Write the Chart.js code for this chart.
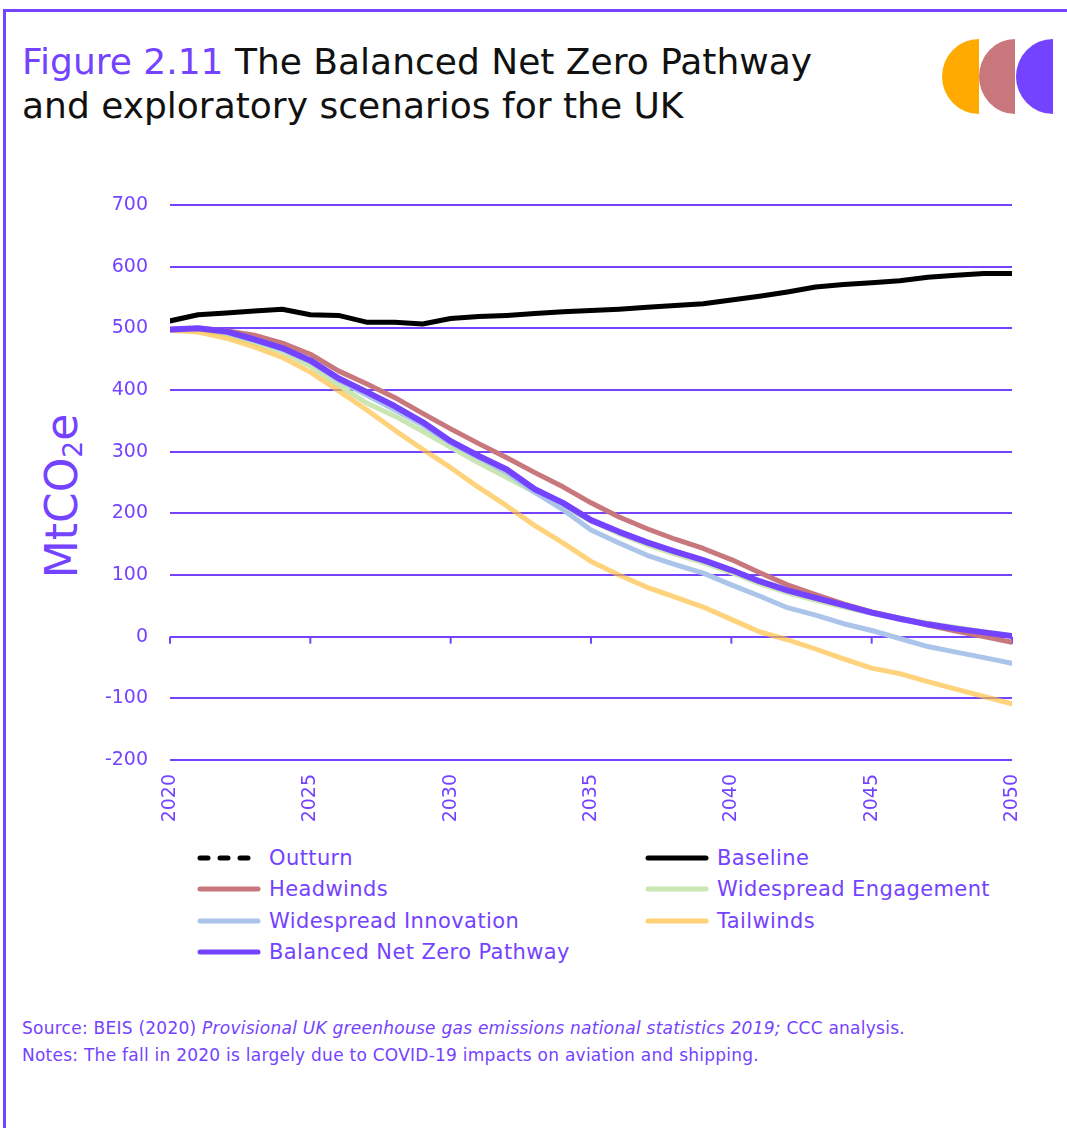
<!DOCTYPE html>
<html>
<head>
<meta charset="utf-8">
<script src="https://cdn.jsdelivr.net/npm/chart.js@4.4.1/dist/chart.umd.min.js"></script>
<style>
  html, body { margin:0; padding:0; background:#fff; }
  body { width:1067px; height:1128px; position:relative; overflow:hidden; font-family:"DejaVu Sans", sans-serif; }
  .frameTop { position:absolute; left:3px; top:9px; width:1064px; height:3px; background:#7443FF; }
  .frameLeft { position:absolute; left:3px; top:9px; width:3px; height:1119px; background:#7443FF; }
  .title { position:absolute; left:22px; top:40px; font-size:36px; line-height:44px; color:#111; letter-spacing:0px; }
  .title .fig { color:#7443FF; }
  .logo { position:absolute; left:940px; top:38px; }
  .ytitle { position:absolute; left:62px; top:496px; transform:translate(-50%,-50%) rotate(-90deg); font-size:44px; color:#7443FF; white-space:nowrap; }
  .ytitle sub { font-size:0.6em; vertical-align:-0.2em; }
  #wrap { position:absolute; left:0; top:180px; width:1067px; height:660px; }
  #wrap canvas { display:block; }
  .leg { position:absolute; height:24px; display:flex; align-items:center; color:#7443FF; font-size:21px; letter-spacing:0.4px; white-space:nowrap; }
  .leg svg { margin-right:8px; }
  .foot { position:absolute; left:22px; color:#7443FF; font-size:17px; white-space:nowrap; letter-spacing:0.25px; }
</style>
</head>
<body>
<div class="frameTop"></div>
<div class="frameLeft"></div>
<div class="title"><span class="fig">Figure 2.11</span> The Balanced Net Zero Pathway<br>and exploratory scenarios for the UK</div>
<svg class="logo" width="116" height="78" viewBox="0 0 116 78">
  <path d="M39 1 A37 37.5 0 0 0 39 76 Z" fill="#FFAA00"/>
  <path d="M75 1 A36 37.5 0 0 0 75 76 Z" fill="#C8777C"/>
  <path d="M113 1 A37 37.5 0 0 0 113 76 Z" fill="#7443FF"/>
</svg>
<div class="ytitle">MtCO<sub>2</sub>e</div>
<div id="wrap"><canvas id="c" width="1067" height="660"></canvas></div>
<div id="legend"></div>
<div class="foot" style="top:1018px;">Source: BEIS (2020) <i>Provisional UK greenhouse gas emissions national statistics 2019;</i> CCC analysis.</div>
<div class="foot" style="top:1045px;">Notes: The fall in 2020 is largely due to COVID-19 impacts on aviation and shipping.</div>

<script>
// ---- DATA ----
const years = [2020,2021,2022,2023,2024,2025,2026,2027,2028,2029,2030,2031,2032,2033,2034,2035,2036,2037,2038,2039,2040,2041,2042,2043,2044,2045,2046,2047,2048,2049,2050];
const outturn = [];
const baseline = [512,522,525,528,531,522,521,510,510,507,516,519,521,524,527,529,531,534,537,540,546,552,559,567,571,574,577,583,586,589,589];
const headwinds = [498,500,496,489,476,458,431,410,388,362,337,313,290,266,243,217,194,175,158,143,125,104,84,68,53,40,30,19,9,0,-9];
const widespreadEngagement = [497,498,491,477,462,439,408,379,358,333,307,282,258,234,212,188,167,149,134,120,104,86,71,59,48,38,30,22,15,8,1];
const widespreadInnovation = [497,499,493,480,466,446,416,392,368,343,314,290,266,234,206,173,152,132,117,103,84,66,47,35,21,10,-3,-16,-25,-34,-43];
const tailwinds = [497,494,484,470,453,429,399,368,335,304,274,242,212,180,152,122,100,80,64,48,28,8,-5,-20,-36,-51,-60,-73,-85,-97,-109];
const balancedNetZero = [498,500,495,482,468,448,419,397,374,348,317,293,271,239,217,189,170,153,138,124,108,90,75,63,51,39,29,20,13,7,1];
const yMin = -200, yMax = 700, yStep = 100, xStep = 5;
const seriesNames = ["Outturn","Baseline","Headwinds","Widespread Engagement","Widespread Innovation","Tailwinds","Balanced Net Zero Pathway"];

// ---- STYLE ----
const PURPLE = '#7443FF';
const styles = [
  {color:'#000000', width:5, dash:[7,6], order:1},
  {color:'#000000', width:5, dash:[], order:1},
  {color:'#C8777C', width:5, dash:[], order:5},
  {color:'#C9E6B3', width:5, dash:[], order:4},
  {color:'#AAC4EA', width:5, dash:[], order:3},
  {color:'rgba(255,190,60,0.68)', width:5, dash:[], order:2},
  {color:PURPLE, width:6, dash:[], order:0}
];
const seriesData = [outturn, baseline, headwinds, widespreadEngagement, widespreadInnovation, tailwinds, balancedNetZero];

const datasets = seriesNames.map((name, i) => ({
  label: name,
  data: seriesData[i],
  borderColor: styles[i].color,
  backgroundColor: styles[i].color,
  borderWidth: styles[i].width,
  borderDash: styles[i].dash,
  borderCapStyle: 'round',
  borderJoinStyle: 'round',
  pointRadius: 0,
  tension: 0,
  fill: false,
  order: styles[i].order
}));

const zeroTicks = {
  id: 'zeroTicks',
  beforeDatasetsDraw(chart) {
    const {ctx, scales:{x, y}} = chart;
    const y0 = y.getPixelForValue(0);
    ctx.save();
    ctx.strokeStyle = PURPLE;
    ctx.lineWidth = 2;
    x.ticks.forEach(t => {
      const px = x.getPixelForValue(t.value);
      ctx.beginPath();
      ctx.moveTo(px, y0);
      ctx.lineTo(px, y0 + 7);
      ctx.stroke();
    });
    ctx.restore();
  }
};

new Chart(document.getElementById('c'), {
  type: 'line',
  data: { labels: years, datasets },
  options: {
    responsive: false,
    devicePixelRatio: 1,
    animation: false,
    layout: { padding: { top: 25, right: 55, left: 0, bottom: 0 } },
    plugins: { legend: { display: false }, tooltip: { enabled: false } },
    scales: {
      x: {
        type: 'linear',
        min: years[0], max: years[years.length - 1],
        grid: { display: false, drawTicks: false },
        border: { display: false },
        ticks: {
          stepSize: xStep, autoSkip: false, minRotation: 90, maxRotation: 90,
          padding: 14, color: PURPLE,
          font: { family: 'DejaVu Sans', size: 19 },
          callback: v => String(v)
        },
        afterFit: s => { s.height = 80; }
      },
      y: {
        min: yMin, max: yMax,
        grid: { color: PURPLE, lineWidth: 2, drawTicks: true, tickLength: 19, tickColor: 'rgba(0,0,0,0)' },
        border: { display: false },
        ticks: {
          stepSize: yStep, padding: 3, color: PURPLE,
          font: { family: 'DejaVu Sans', size: 19 }
        },
        afterFit: s => { s.width = 170; }
      }
    }
  },
  plugins: [zeroTicks]
});

// ---- HTML legend (two columns) ----
const legPos = [
  [197, 858], [645, 858],
  [197, 889], [645, 889],
  [197, 921], [645, 921],
  [197, 952]
];
const legend = document.getElementById('legend');
seriesNames.forEach((name, i) => {
  const d = document.createElement('div');
  d.className = 'leg';
  d.style.left = legPos[i][0] + 'px';
  d.style.top = (legPos[i][1] - 12) + 'px';
  const st = styles[i];
  const dash = st.dash.length ? 'stroke-dasharray="8 12"' : '';
  const col = i === 5 ? '#FFD27A' : st.color;
  d.innerHTML = `<svg width="64" height="10"><line x1="3" y1="5" x2="61" y2="5" stroke="${col}" stroke-width="5" stroke-linecap="round" ${dash}/></svg><span>${name}</span>`;
  legend.appendChild(d);
});
</script>
</body>
</html>
